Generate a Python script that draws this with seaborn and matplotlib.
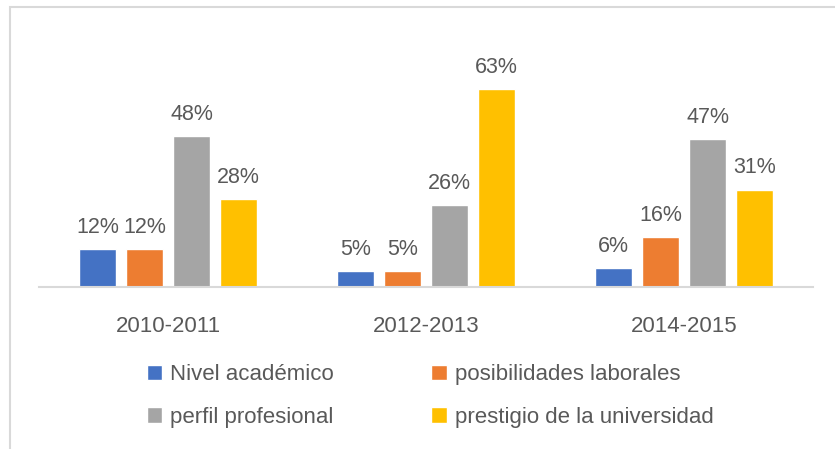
import pandas as pd
import seaborn as sns
import matplotlib.pyplot as plt
from matplotlib.patches import Rectangle

sns.set_style("white")
plt.rcParams['font.family'] = ['Liberation Sans', 'DejaVu Sans']

years = ['2010-2011', '2012-2013', '2014-2015']
series = ['Nivel académico', 'posibilidades laborales', 'perfil profesional', 'prestigio de la universidad']
nivel = [12, 5, 6]
posibilidades = [12, 5, 16]
perfil = [48, 26, 47]
prestigio = [28, 63, 31]
colors = ['#4472C4', '#ED7D31', '#A5A5A5', '#FFC000']

rows = []
for name, vals in zip(series, [nivel, posibilidades, perfil, prestigio]):
    for y, v in zip(years, vals):
        rows.append({'year': y, 'serie': name, 'val': v})
df = pd.DataFrame(rows)

fig = plt.figure(figsize=(8.35, 4.49), dpi=100)
ax = fig.add_axes([39 / 835, 162 / 449, 774 / 835, 0.49])
sns.barplot(data=df, x='year', y='val', hue='serie', palette=colors, saturation=1,
            width=0.73, gap=0.21, ax=ax, legend=True)

for c in ax.containers:
    ax.bar_label(c, labels=[f'{int(v)}%' for v in c.datavalues], padding=8,
                 fontsize=15.5, color='#595959')

ax.set_ylim(0, 70)
ax.set_xlim(-0.5, 2.5)
ax.set_xlabel('')
ax.set_ylabel('')
ax.set_yticks([])
ax.tick_params(axis='x', length=0, pad=21, labelsize=16, labelcolor='#595959')
for s in ['top', 'right', 'left']:
    ax.spines[s].set_visible(False)
ax.spines['bottom'].set_color('#D9D9D9')
ax.spines['bottom'].set_linewidth(1.5)

handles, labels = ax.get_legend_handles_labels()
ax.get_legend().remove()
order = [0, 2, 1, 3]
fig.legend([handles[i] for i in order], [labels[i] for i in order], ncol=2,
           loc='center', bbox_to_anchor=(0.515, 0.118),
           frameon=False, fontsize=16, labelcolor='#595959',
           handlelength=0.7, handleheight=0.7, handletextpad=0.35,
           columnspacing=4.4, labelspacing=0.95)

# chart frame (cropped at right and bottom)
fig.patches.append(Rectangle((10 / 835, -0.1), 1.2, 1.1 - 7 / 449, transform=fig.transFigure,
                             fill=False, edgecolor='#D9D9D9', linewidth=1.5))

fig.savefig('out.png', dpi=100)
